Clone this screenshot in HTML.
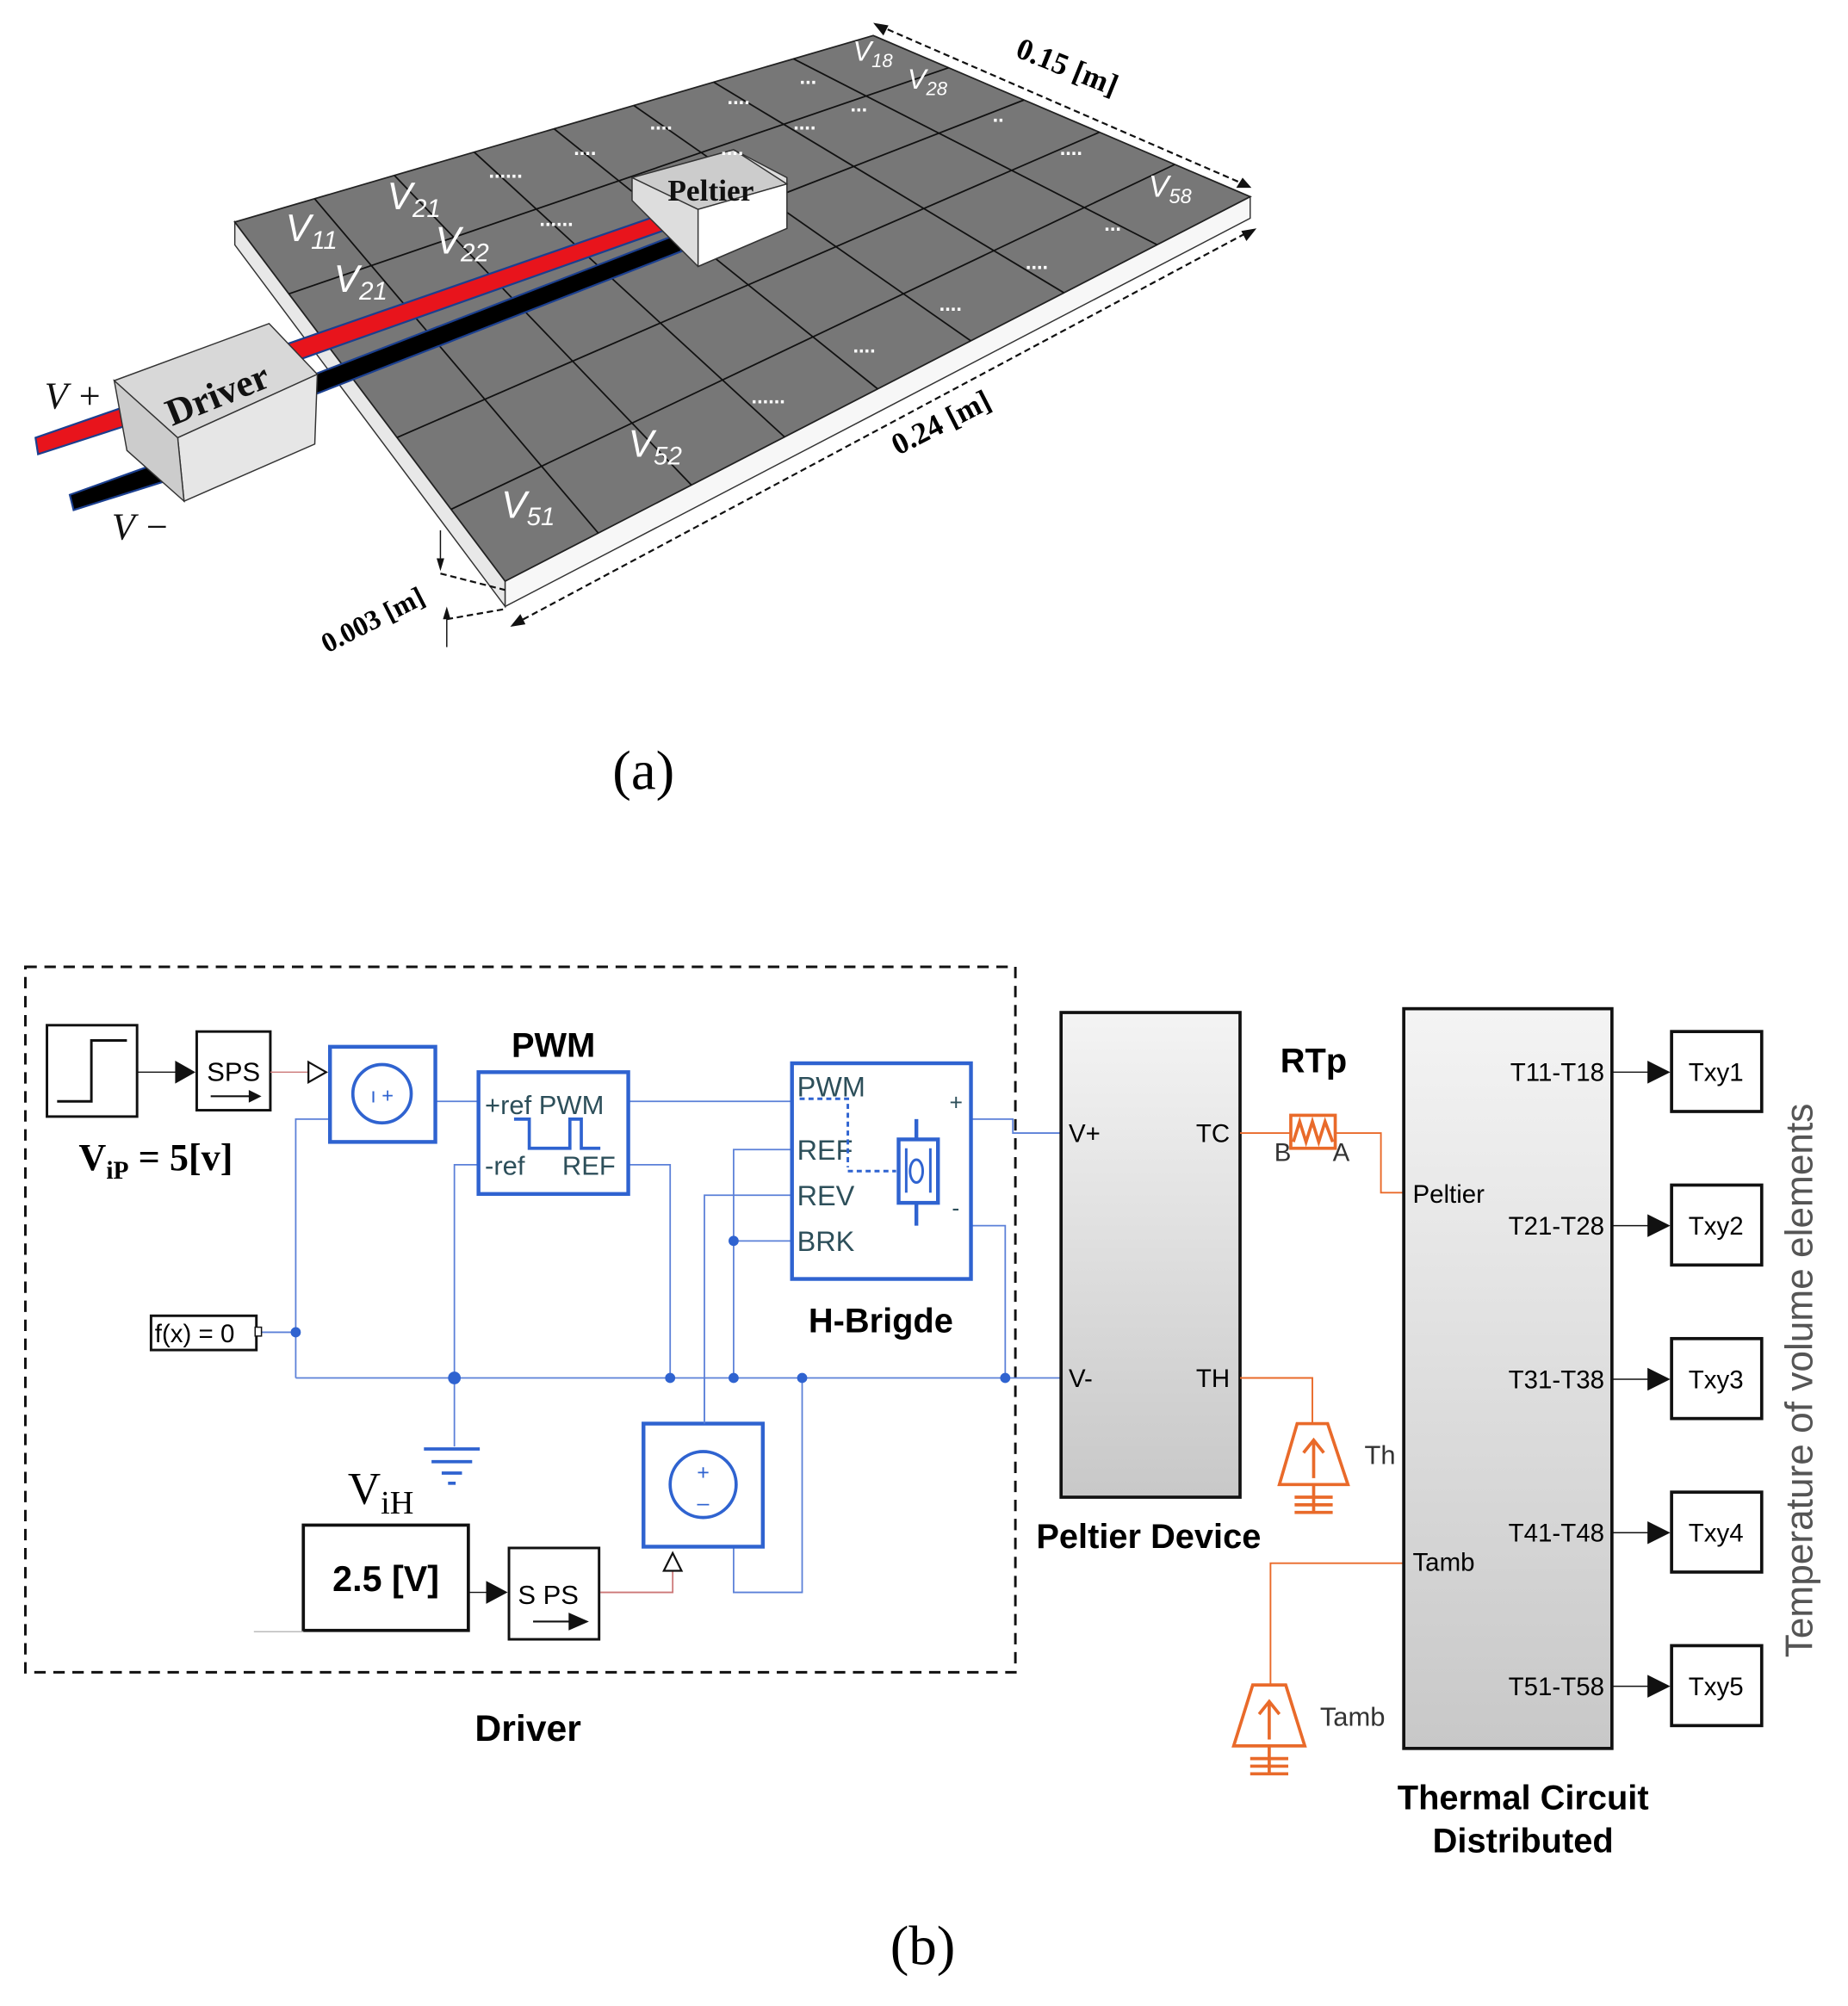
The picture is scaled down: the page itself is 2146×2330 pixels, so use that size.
<!DOCTYPE html>
<html><head><meta charset="utf-8"><style>
html,body{margin:0;padding:0;background:#fff;}
svg{display:block;}
text{font-family:"Liberation Sans",sans-serif;}
.serif{font-family:"Liberation Serif",serif;}
</style></head><body>
<svg id="s" width="2146" height="2330" viewBox="0 0 1456 1581" preserveAspectRatio="none" xmlns="http://www.w3.org/2000/svg">
<defs>
<linearGradient id="gp" x1="0" y1="0" x2="0" y2="1"><stop offset="0" stop-color="#f4f4f4"/><stop offset="1" stop-color="#c8c8c8"/></linearGradient>
</defs>
<polygon points="185,175 398,458 398,478 185,193" fill="#e8e8e8" stroke="#333" stroke-width="1"/>
<polygon points="398,458 985,155 985,172 398,478" fill="#f7f7f7" stroke="#333" stroke-width="1"/>
<polygon points="185,175 688,28 985,155 398,458" fill="#777" stroke="#222" stroke-width="1.2"/>
<g id="grid" stroke="#111" stroke-width="1.2"></g>
<polygon points="215,275 518,170 522,182 220,289" fill="#e8141c" stroke="#1b3f8f" stroke-width="1.5"/>
<polygon points="235,300 533,185 537,198 240,314" fill="#000" stroke="#1b3f8f" stroke-width="1.5"/>
<polygon points="28,345 100,320 104,334 30,358" fill="#e8141c" stroke="#1b3f8f" stroke-width="1.5"/>
<polygon points="55,390 130,363 134,378 58,402" fill="#000" stroke="#1b3f8f" stroke-width="1.5"/>
<polygon points="498,140 578,118 620,140 620,180 550,210 498,158" fill="#ddd" stroke="#333"/>
<polygon points="498,140 578,118 620,145 550,165" fill="#ccc" stroke="#333"/>
<polygon points="550,165 620,145 620,180 550,210" fill="#fff" stroke="#333"/>
<text x="560" y="158" class="serif" font-size="24" font-weight="bold" text-anchor="middle" fill="#111">Peltier</text>
<polygon points="90,300 212,255 250,295 140,345" fill="#d8d8d8" stroke="#333"/>
<polygon points="140,345 250,295 248,350 145,395" fill="#e6e6e6" stroke="#333"/>
<polygon points="90,300 140,345 145,395 100,355" fill="#ccc" stroke="#333"/>
<text x="175" y="320" class="serif" font-size="30" font-weight="bold" fill="#111" transform="rotate(-22 175 320)" text-anchor="middle">Driver</text>
<text x="35" y="322" class="serif" font-size="30" font-style="italic" fill="#111">V +</text>
<text x="88" y="425" class="serif" font-size="30" font-style="italic" fill="#111">V −</text>
<g class="serif" fill="#fff" font-style="italic" font-size="30">
<text x="225" y="190">V<tspan font-size="20" dy="6">11</tspan></text>
<text x="305" y="165">V<tspan font-size="20" dy="6">21</tspan></text>
<text x="263" y="230">V<tspan font-size="20" dy="6">21</tspan></text>
<text x="343" y="200">V<tspan font-size="20" dy="6">22</tspan></text>
<text x="672" y="48" font-size="22">V<tspan font-size="15" dy="5">18</tspan></text>
<text x="715" y="70" font-size="22">V<tspan font-size="15" dy="5">28</tspan></text>
<text x="905" y="155" font-size="24">V<tspan font-size="16" dy="5">58</tspan></text>
<text x="395" y="408">V<tspan font-size="20" dy="6">51</tspan></text>
<text x="495" y="360">V<tspan font-size="20" dy="6">52</tspan></text>
<g font-style="normal" font-size="16" font-weight="bold">
<text x="385" y="140">......</text><text x="425" y="178">......</text><text x="452" y="122">....</text><text x="512" y="102">....</text><text x="573" y="82">....</text><text x="630" y="66">...</text><text x="625" y="102">....</text><text x="670" y="88">...</text><text x="568" y="122">....</text><text x="782" y="96">..</text><text x="835" y="122">....</text><text x="870" y="182">...</text><text x="808" y="212">....</text><text x="740" y="245">....</text><text x="672" y="278">....</text><text x="592" y="318">......</text>
</g></g>
<g stroke="#111" stroke-width="1.5" stroke-dasharray="5,3" fill="none">
<line x1="692" y1="20" x2="982" y2="146"/>
<line x1="405" y1="492" x2="985" y2="182"/>
<line x1="347" y1="452" x2="398" y2="465"/>
<line x1="352" y1="488" x2="398" y2="480"/>
</g>
<g fill="#111">
<polygon points="688,18 700,20 696,28"/><polygon points="986,148 974,148 979,140"/>
<polygon points="402,494 410,484 414,492"/><polygon points="990,180 982,190 978,182"/>
<polygon points="344,440 350,440 347,450"/><polygon points="349,488 355,488 352,478"/>
</g>
<line x1="347" y1="418" x2="347" y2="440" stroke="#111"/><line x1="352" y1="488" x2="352" y2="510" stroke="#111"/>
<text x="838" y="60" class="serif" font-size="24" font-weight="bold" transform="rotate(22 838 60)" text-anchor="middle">0.15 [m]</text>
<text x="745" y="340" class="serif" font-size="24" font-weight="bold" transform="rotate(-27 745 340)" text-anchor="middle">0.24 [m]</text>
<text x="297" y="495" class="serif" font-size="22" font-weight="bold" transform="rotate(-27 297 495)" text-anchor="middle">0.003 [m]</text>
<text x="507" y="622" class="serif" font-size="44" text-anchor="middle">(a)</text>

<rect x="20" y="762" width="780" height="556" fill="none" stroke="#111" stroke-width="2" stroke-dasharray="9,6"/>
<g stroke="#5b80d8" stroke-width="1.2" fill="none">
<line x1="233" y1="1086" x2="836" y2="1086"/>
<path d="M260,882 H233 V1086"/>
<line x1="205" y1="1050" x2="233" y2="1050"/>
<line x1="343" y1="868" x2="624" y2="868"/>
<path d="M377,918 H358 V1140"/>
<path d="M495,918 H528 V1086"/>
<path d="M624,906 H578 V1086"/>
<path d="M624,942 H555 V1120"/>
<line x1="578" y1="978" x2="624" y2="978"/>
<path d="M722,895 V882 H798 V893 H836"/>
<path d="M722,948 V966 H792 V1086"/>
<path d="M632,1086 V1255 H578 V1220"/>
<path d="M473,1255 H530 V1238" stroke="#c77"/>
</g>
<g fill="#2f63d0">
<circle cx="233" cy="1050" r="4"/><circle cx="358" cy="1086" r="5"/><circle cx="528" cy="1086" r="4"/><circle cx="578" cy="1086" r="4"/><circle cx="578" cy="978" r="4"/><circle cx="632" cy="1086" r="4"/><circle cx="792" cy="1086" r="4"/>
</g>
<g stroke="#2f63d0" stroke-width="2.5"><line x1="334" y1="1142" x2="378" y2="1142"/><line x1="340" y1="1152" x2="372" y2="1152"/><line x1="348" y1="1161" x2="364" y2="1161"/><line x1="353" y1="1169" x2="359" y2="1169"/></g>
<rect x="37" y="808" width="71" height="72" fill="#fff" stroke="#111" stroke-width="2"/>
<path d="M45,868 H72 V820 H100" stroke="#111" stroke-width="2" fill="none"/>
<line x1="108" y1="845" x2="140" y2="845" stroke="#111"/><polygon points="138,836 154,845 138,854" fill="#111"/>
<rect x="155" y="813" width="58" height="62" fill="#fff" stroke="#111" stroke-width="2"/>
<text x="184" y="852" font-size="21" text-anchor="middle">SPS</text>
<line x1="166" y1="864" x2="198" y2="864" stroke="#111" stroke-width="1.5"/><polygon points="196,859 206,864 196,869" fill="#111"/>
<line x1="213" y1="845" x2="243" y2="845" stroke="#c77"/>
<polygon points="243,837 257,845 243,853" fill="#fff" stroke="#111" stroke-width="1.5"/>
<text x="62" y="922" class="serif" font-size="30" font-weight="bold">V<tspan font-size="20" dy="7">iP</tspan><tspan dy="-7"> = 5[v]</tspan></text>
<rect x="260" y="825" width="83" height="75" fill="#fff" stroke="#2f63d0" stroke-width="3"/>
<circle cx="301" cy="862" r="23" fill="none" stroke="#2f63d0" stroke-width="2.5"/>
<text x="301" y="869" font-size="16" text-anchor="middle" fill="#2f63d0">ı +</text>
<text x="436" y="833" font-size="27" font-weight="bold" text-anchor="middle">PWM</text>
<rect x="377" y="845" width="118" height="96" fill="#fff" stroke="#2f63d0" stroke-width="3"/>
<text x="382" y="878" font-size="21" fill="#2d4f5a">+ref PWM</text>
<text x="382" y="926" font-size="21" fill="#2d4f5a">-ref</text><text x="443" y="926" font-size="21" fill="#2d4f5a">REF</text>
<path d="M405,882 H417 V905 H449 V882 H458 V905 H473" stroke="#2f63d0" stroke-width="2.5" fill="none"/>
<rect x="624" y="838" width="141" height="170" fill="#fff" stroke="#2f63d0" stroke-width="3"/>
<g font-size="22" fill="#2d4f5a"><text x="628" y="864">PWM</text><text x="628" y="914">REF</text><text x="628" y="950">REV</text><text x="628" y="986">BRK</text><text x="748" y="875" font-size="18">+</text><text x="750" y="958" font-size="18">-</text></g>
<path d="M630,866 H668 V920 M668,923 H706" stroke="#2f63d0" stroke-width="2" stroke-dasharray="4,3" fill="none"/>
<rect x="708" y="898" width="31" height="50" fill="none" stroke="#2f63d0" stroke-width="3"/>
<line x1="722" y1="882" x2="722" y2="898" stroke="#2f63d0" stroke-width="3"/><line x1="722" y1="948" x2="722" y2="966" stroke="#2f63d0" stroke-width="3"/>
<line x1="714" y1="905" x2="714" y2="940" stroke="#2f63d0" stroke-width="2"/><line x1="733" y1="905" x2="733" y2="940" stroke="#2f63d0" stroke-width="2"/><ellipse cx="722" cy="923" rx="5" ry="9" fill="none" stroke="#2f63d0" stroke-width="2"/>
<text x="694" y="1050" font-size="27" font-weight="bold" text-anchor="middle">H-Brigde</text>
<rect x="119" y="1037" width="83" height="27" fill="#fff" stroke="#111" stroke-width="2"/>
<text x="122" y="1058" font-size="20">f(x) = 0</text>
<rect x="201" y="1046" width="5" height="7" fill="#fff" stroke="#111"/>
<text x="274" y="1185" class="serif" font-size="36">V<tspan font-size="26" dy="8">iH</tspan></text>
<rect x="239" y="1202" width="130" height="83" fill="#fff" stroke="#111" stroke-width="2.5"/>
<text x="304" y="1254" font-size="28" font-weight="bold" text-anchor="middle">2.5 [V]</text>
<line x1="200" y1="1286" x2="239" y2="1286" stroke="#bbb"/>
<line x1="369" y1="1255" x2="384" y2="1255" stroke="#111"/><polygon points="383,1246 400,1255 383,1264" fill="#111"/>
<rect x="401" y="1220" width="71" height="72" fill="#fff" stroke="#111" stroke-width="2"/>
<text x="408" y="1264" font-size="21">S  PS</text>
<line x1="420" y1="1278" x2="452" y2="1278" stroke="#111" stroke-width="1.5"/><polygon points="448,1271 464,1278 448,1285" fill="#111"/>
<polygon points="523,1238 530,1224 537,1238" fill="#fff" stroke="#111" stroke-width="1.5"/>
<rect x="507" y="1122" width="94" height="97" fill="#fff" stroke="#2f63d0" stroke-width="3"/>
<circle cx="554" cy="1170" r="26" fill="none" stroke="#2f63d0" stroke-width="2.5"/>
<text x="554" y="1166" font-size="17" text-anchor="middle" fill="#2f63d0">+</text><text x="554" y="1190" font-size="17" text-anchor="middle" fill="#2f63d0">–</text>
<line x1="555" y1="1086" x2="555" y2="1122" stroke="#5b80d8"/>
<text x="416" y="1372" font-size="29" font-weight="bold" text-anchor="middle">Driver</text>
<rect x="836" y="798" width="141" height="382" fill="url(#gp)" stroke="#111" stroke-width="2.5"/>
<g font-size="20"><text x="842" y="900">V+</text><text x="842" y="1093">V-</text><text x="969" y="900" text-anchor="end">TC</text><text x="969" y="1093" text-anchor="end">TH</text></g>
<text x="905" y="1220" font-size="27" font-weight="bold" text-anchor="middle">Peltier Device</text>
<text x="1035" y="845" font-size="27" font-weight="bold" text-anchor="middle">RTp</text>
<g stroke="#e96a2a" fill="none" stroke-width="1.3">
<path d="M977,893 H1017 M1052,893 H1088 V940 H1106"/>
<path d="M977,1086 H1034 V1122"/>
<path d="M1106,1232 H1001 V1328"/>
</g>
<rect x="1017" y="879" width="35" height="26" fill="none" stroke="#e96a2a" stroke-width="2.5"/>
<path d="M1019,900 L1024,884 L1029,900 L1034,884 L1039,900 L1044,884 L1050,900" stroke="#e96a2a" stroke-width="2.5" fill="none"/>
<text x="1004" y="915" font-size="20" fill="#333">B</text><text x="1050" y="915" font-size="20" fill="#333">A</text>
<g stroke="#e96a2a" stroke-width="2.5" fill="none">
<polygon points="1022,1122 1046,1122 1062,1170 1008,1170"/><path d="M1035,1165 V1137 M1027,1145 L1035,1135 L1043,1145"/><path d="M1035,1170 V1192 M1020,1180 H1050 M1020,1186 H1050 M1020,1192 H1050"/>
<polygon points="987,1328 1013,1328 1028,1376 972,1376"/><path d="M1000,1371 V1343 M992,1351 L1000,1341 L1008,1351"/><path d="M1000,1376 V1398 M985,1386 H1015 M985,1392 H1015 M985,1398 H1015"/>
</g>
<text x="1075" y="1154" font-size="21" fill="#333">Th</text>
<text x="1040" y="1360" font-size="21" fill="#333">Tamb</text>
<rect x="1106" y="795" width="164" height="583" fill="url(#gp)" stroke="#111" stroke-width="2.5"/>
<g font-size="20"><text x="1113" y="948">Peltier</text><text x="1113" y="1238">Tamb</text>
<text x="1264" y="852" text-anchor="end">T11-T18</text><text x="1264" y="973" text-anchor="end">T21-T28</text><text x="1264" y="1094" text-anchor="end">T31-T38</text><text x="1264" y="1215" text-anchor="end">T41-T48</text><text x="1264" y="1336" text-anchor="end">T51-T58</text></g>
<g stroke="#111">
<line x1="1270" y1="845" x2="1300" y2="845"/><line x1="1270" y1="966" x2="1300" y2="966"/><line x1="1270" y1="1087" x2="1300" y2="1087"/><line x1="1270" y1="1208" x2="1300" y2="1208"/><line x1="1270" y1="1329" x2="1300" y2="1329"/>
</g>
<g fill="#111">
<polygon points="1298,836 1316,845 1298,854"/><polygon points="1298,957 1316,966 1298,975"/><polygon points="1298,1078 1316,1087 1298,1096"/><polygon points="1298,1199 1316,1208 1298,1217"/><polygon points="1298,1320 1316,1329 1298,1338"/>
</g>
<g fill="#fff" stroke="#111" stroke-width="2.5">
<rect x="1317" y="813" width="71" height="63"/><rect x="1317" y="934" width="71" height="63"/><rect x="1317" y="1055" width="71" height="63"/><rect x="1317" y="1176" width="71" height="63"/><rect x="1317" y="1297" width="71" height="63"/>
</g>
<g font-size="20" text-anchor="middle">
<text x="1352" y="852">Txy1</text><text x="1352" y="973">Txy2</text><text x="1352" y="1094">Txy3</text><text x="1352" y="1215">Txy4</text><text x="1352" y="1336">Txy5</text>
</g>
<text x="1200" y="1426" font-size="27" font-weight="bold" text-anchor="middle">Thermal Circuit</text>
<text x="1200" y="1460" font-size="27" font-weight="bold" text-anchor="middle">Distributed</text>
<text x="1428" y="1088" font-size="30" fill="#555" text-anchor="middle" transform="rotate(-90 1428 1088)">Temperature of volume elements</text>
<text x="727" y="1548" class="serif" font-size="44" text-anchor="middle">(b)</text>
</svg>
<script>
(function(){
var ns="http://www.w3.org/2000/svg";
var P00=[185,175],P10=[688,28],P01=[398,458],P11=[985,155];
function pt(u,v){return [(1-u)*(1-v)*P00[0]+u*(1-v)*P10[0]+(1-u)*v*P01[0]+u*v*P11[0],(1-u)*(1-v)*P00[1]+u*(1-v)*P10[1]+(1-u)*v*P01[1]+u*v*P11[1]];}
var g=document.getElementById("grid");
function ln(a,b){var l=document.createElementNS(ns,"line");l.setAttribute("x1",a[0]);l.setAttribute("y1",a[1]);l.setAttribute("x2",b[0]);l.setAttribute("y2",b[1]);g.appendChild(l);}
for(var i=1;i<8;i++)ln(pt(i/8,0),pt(i/8,1));
for(var j=1;j<5;j++)ln(pt(0,j/5),pt(1,j/5));
})();
</script>
</body></html>
